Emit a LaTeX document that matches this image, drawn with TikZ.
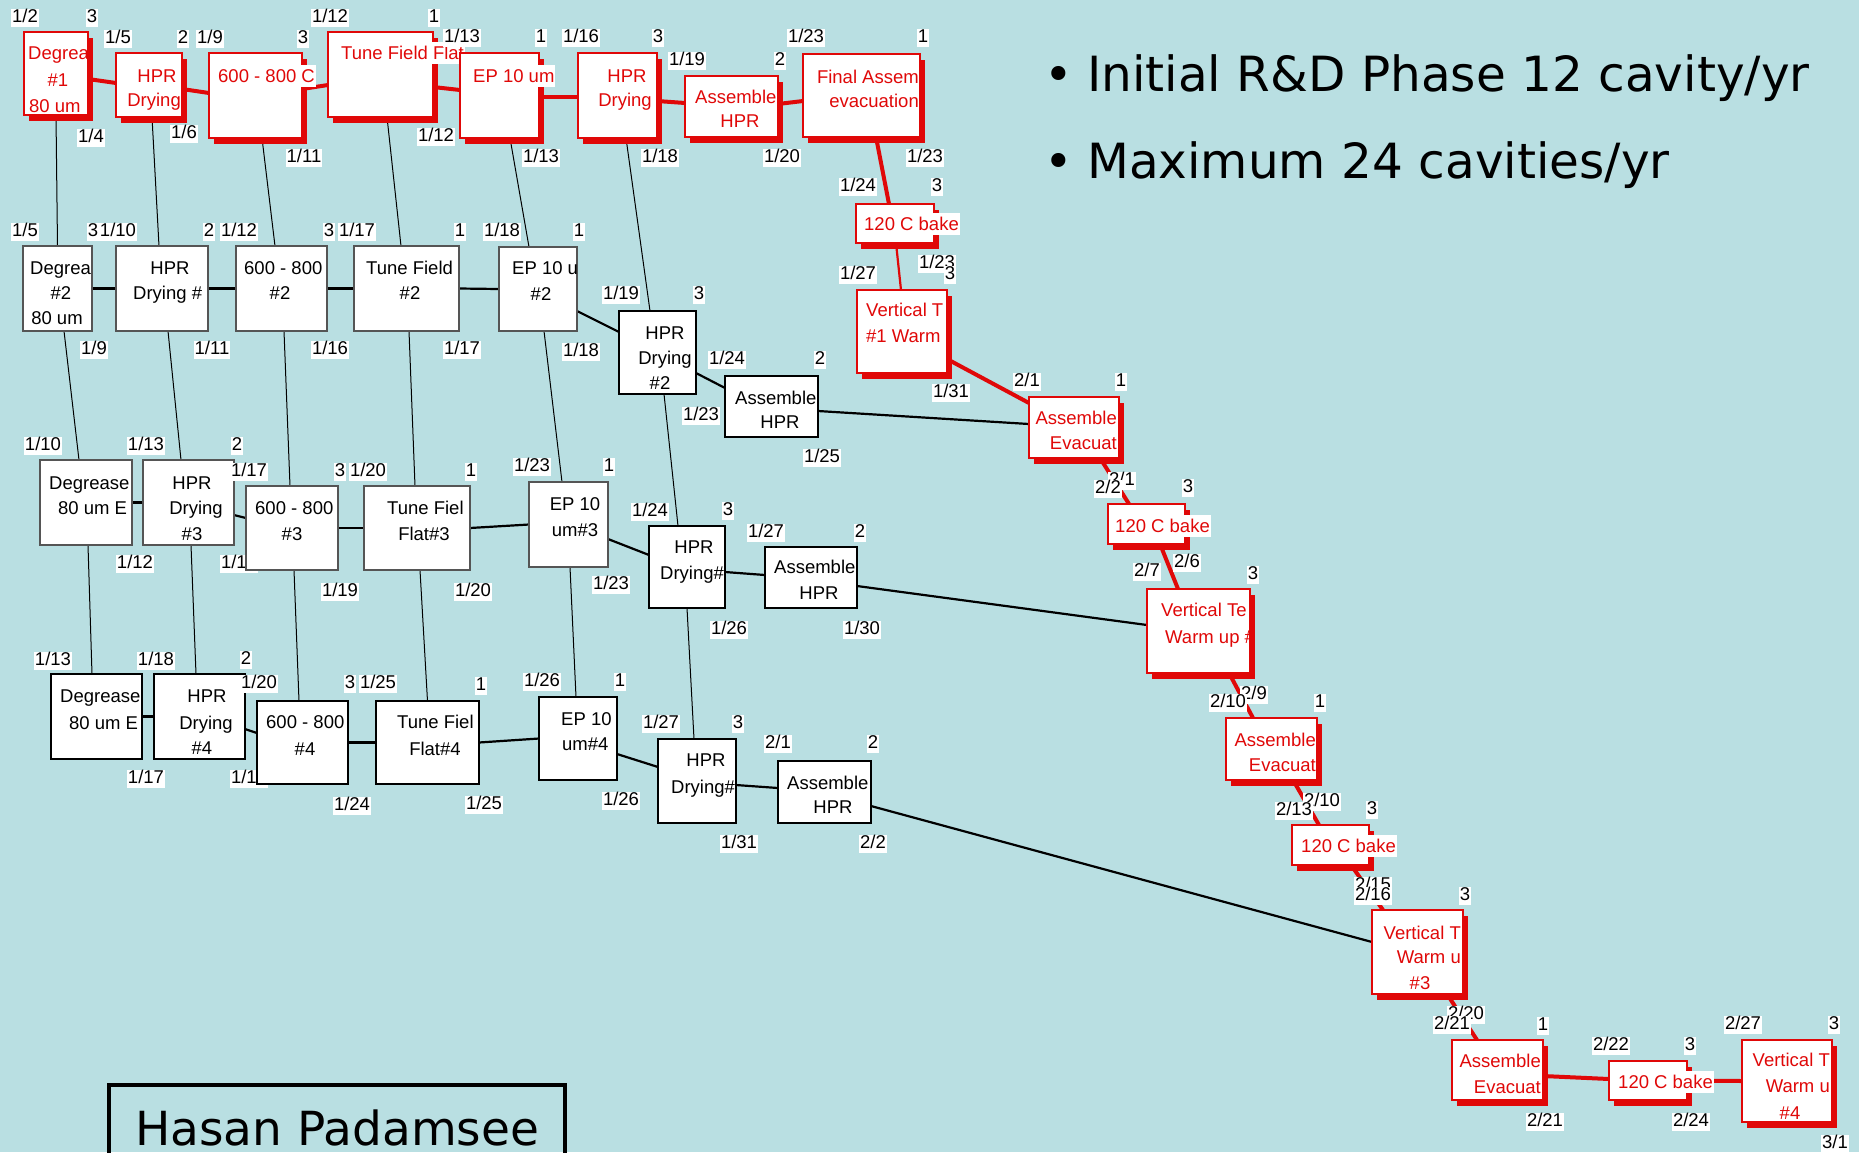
\documentclass[tikz,border=0pt]{standalone}
\usepackage{fontspec}
\setmainfont{Liberation Sans}
\newfontfamily\dejavu{DejaVu Sans}
\usetikzlibrary{shadows,backgrounds}
\definecolor{bgc}{RGB}{185,223,226}
\definecolor{redc}{RGB}{224,8,8}
\definecolor{greyc}{RGB}{85,85,85}
\newcounter{lbc}\newcounter{tlc}
\newcommand{\dlab}[3]{\stepcounter{lbc}\edef\lbname{lab\the\value{lbc}}\node[lab] (\lbname) at (#1,#2) {#3};}
\newcommand{\tline}[5]{\stepcounter{tlc}\edef\tlname{tx\the\value{tlc}}\node[#1,anchor=#2] (\tlname) at (#3,#4) {#5};}
\newcommand{\mkbox}[6]{\node[#6,anchor=north west,minimum width=#4,minimum height=#5] (#1) at (#2,#3) {};}
\tikzset{
 rb/.style={draw=redc, line width=2.2pt, fill=white, inner sep=0pt, outer sep=0pt, drop shadow={shadow xshift=5pt, shadow yshift=-6pt, fill=redc, opacity=1}},
 gb/.style={draw=greyc, line width=1.3pt, fill=white, inner sep=0pt, outer sep=0pt},
 kb/.style={draw=black, line width=2.6pt, fill=white, inner sep=0pt, outer sep=0pt},
 txt/.style={font=\fontsize{18.5}{22}\selectfont, inner sep=0pt, text height=13.3pt, text depth=0pt},
 rt/.style={txt, text=redc},
 bt/.style={txt, text=black},
 ovf/.style={fill=white, inner xsep=1pt, inner ysep=4pt},
 lab/.style={font=\fontsize{18.5}{22}\selectfont, fill=white, inner sep=1pt, text height=13.3pt, text depth=3.5pt, text=black},
 rcon/.style={draw=redc, line width=4pt},
 rthin/.style={draw=redc, line width=2.2pt},
 bcon/.style={draw=black, line width=2.2pt},
 vcon/.style={draw=black, line width=1pt},
 big/.style={font=\dejavu\fontsize{48.5}{58}\selectfont, inner sep=0pt},
}
\begin{document}
\begin{tikzpicture}[x=1pt,y=-1pt]
\useasboundingbox (0,0) rectangle (1859,1152);
\begin{pgfonlayer}{background}
\fill[bgc] (0,0) rectangle (1859,1152);
\end{pgfonlayer}

% labels hidden behind boxes
\dlab{239}{564}{1/16}
\dlab{249}{779}{1/19}

% ---------- row 1 (red) ----------
\mkbox{d1}{24}{32}{64}{83}{rb}
\tline{rt}{west}{28}{53}{Degrea}
\tline{rt}{center}{58}{80}{\#1}
\tline{rt}{west}{29}{106}{80 um}
\mkbox{h1}{116}{53}{66}{64}{rb}
\tline{rt}{center}{157}{76}{HPR}
\tline{rt}{east}{181}{100}{Drying}
\mkbox{s1}{209}{53}{93}{85}{rb}
\tline{rt,ovf}{west}{217}{76}{600 - 800 C}
\mkbox{t1}{328}{32}{105}{85}{rb}
\tline{rt,ovf}{west}{340}{53}{Tune Field Flat}
\mkbox{e1}{460}{53}{79}{85}{rb}
\tline{rt,ovf}{west}{472}{76}{EP 10 um}
\mkbox{f1}{578}{53}{79}{85}{rb}
\tline{rt}{center}{627}{76}{HPR}
\tline{rt}{center}{625}{100}{Drying}
\mkbox{a1}{685}{76}{93}{61}{rb}
\tline{rt}{west}{695}{97}{Assemble}
\tline{rt}{center}{740}{121}{HPR}
\mkbox{fin}{803}{54}{117}{83}{rb}
\tline{rt}{east}{919}{77}{Final Assem}
\tline{rt}{east}{919}{101}{evacuation}

% ---------- red chain ----------
\mkbox{cb1}{856}{204}{78}{39}{rb}
\tline{rt,ovf}{west}{863}{224}{120 C bake}
\mkbox{vt1}{857}{290}{90}{83}{rb}
\tline{rt}{west}{866}{310}{Vertical T}
\tline{rt}{west}{866}{336}{\#1 Warm}
\mkbox{ae1}{1029}{397}{90}{61}{rb}
\tline{rt}{east}{1117}{418}{Assemble}
\tline{rt}{east}{1117}{443}{Evacuat}
\mkbox{cb2}{1108}{504}{77}{40}{rb}
\tline{rt,ovf}{west}{1114}{526}{120 C bake}
\mkbox{vt2}{1147}{589}{103}{84}{rb}
\tline{rt}{west}{1161}{610}{Vertical Te}
\tline{rt}{west}{1165}{637}{Warm up \#}
\mkbox{ae3}{1226}{718}{91}{62}{rb}
\tline{rt}{east}{1316}{740}{Assemble}
\tline{rt}{east}{1316}{765}{Evacuat}
\mkbox{cb3}{1292}{825}{77}{40}{rb}
\tline{rt,ovf}{west}{1300}{846}{120 C bake}
\mkbox{vt3}{1372}{910}{91}{84}{rb}
\tline{rt}{east}{1461}{933}{Vertical T}
\tline{rt}{east}{1461}{957}{Warm u}
\tline{rt}{center}{1420}{983}{\#3}
\mkbox{ae4}{1452}{1040}{91}{60}{rb}
\tline{rt}{east}{1541}{1061}{Assemble}
\tline{rt}{east}{1541}{1087}{Evacuat}
\mkbox{cb4}{1609}{1061}{78}{39}{rb}
\tline{rt,ovf}{west}{1617}{1082}{120 C bake}
\mkbox{vt4}{1742}{1040}{90}{82}{rb}
\tline{rt}{east}{1830}{1060}{Vertical T}
\tline{rt}{east}{1830}{1086}{Warm u}
\tline{rt}{center}{1790}{1113}{\#4}

% ---------- row 2 ----------
\mkbox{d2}{23}{246}{69}{85}{gb}
\tline{bt}{west}{30}{268}{Degrea}
\tline{bt}{center}{61}{293}{\#2}
\tline{bt}{center}{57}{318}{80 um}
\mkbox{h2}{116}{246}{92}{85}{gb}
\tline{bt}{center}{170}{268}{HPR}
\tline{bt}{west}{133}{293}{Drying \#}
\mkbox{s2}{236}{246}{91}{85}{gb}
\tline{bt}{west}{244}{268}{600 - 800}
\tline{bt}{center}{280}{293}{\#2}
\mkbox{t2}{354}{246}{105}{85}{gb}
\tline{bt}{west}{366}{268}{Tune Field}
\tline{bt}{center}{410}{293}{\#2}
\mkbox{e2}{499}{247}{78}{84}{gb}
\tline{bt}{west}{512}{268}{EP 10 u}
\tline{bt}{center}{541}{294}{\#2}
\mkbox{f2}{619}{311}{77}{83}{kb}
\tline{bt}{center}{665}{333}{HPR}
\tline{bt}{center}{665}{358}{Drying}
\tline{bt}{center}{660}{383}{\#2}
\mkbox{a2}{725}{376}{93}{61}{kb}
\tline{bt}{west}{735}{398}{Assemble}
\tline{bt}{center}{780}{422}{HPR}

% ---------- row 3 ----------
\mkbox{d3}{40}{460}{92}{85}{gb}
\tline{bt}{west}{49}{483}{Degrease}
\tline{bt}{west}{58}{508}{80 um E}
\mkbox{h3}{143}{460}{91}{85}{gb}
\tline{bt}{center}{192}{483}{HPR}
\tline{bt}{center}{196}{508}{Drying}
\tline{bt}{center}{192}{534}{\#3}
\mkbox{s3}{246}{486}{92}{84}{gb}
\tline{bt}{west}{255}{508}{600 - 800}
\tline{bt}{center}{292}{534}{\#3}
\mkbox{t3}{364}{486}{106}{84}{gb}
\tline{bt}{west}{387}{508}{Tune Fiel}
\tline{bt}{center}{424}{534}{Flat\#3}
\mkbox{e3}{529}{482}{79}{85}{gb}
\tline{bt}{center}{575}{504}{EP 10}
\tline{bt}{center}{575}{530}{um\#3}
\mkbox{f3}{649}{526}{76}{82}{kb}
\tline{bt}{center}{694}{547}{HPR}
\tline{bt}{west}{660}{573}{Drying\#}
\mkbox{a3}{765}{547}{92}{61}{kb}
\tline{bt}{west}{774}{567}{Assemble}
\tline{bt}{center}{819}{593}{HPR}

% ---------- row 4 ----------
\mkbox{d4}{51}{674}{91}{85}{kb}
\tline{bt}{west}{60}{696}{Degrease}
\tline{bt}{west}{69}{723}{80 um E}
\mkbox{h4}{154}{674}{91}{85}{kb}
\tline{bt}{center}{207}{696}{HPR}
\tline{bt}{center}{206}{723}{Drying}
\tline{bt}{center}{202}{748}{\#4}
\mkbox{s4}{257}{701}{91}{83}{kb}
\tline{bt}{west}{266}{722}{600 - 800}
\tline{bt}{center}{305}{749}{\#4}
\mkbox{t4}{376}{701}{103}{83}{kb}
\tline{bt}{west}{397}{722}{Tune Fiel}
\tline{bt}{center}{435}{749}{Flat\#4}
\mkbox{e4}{539}{697}{78}{83}{kb}
\tline{bt}{west}{561}{719}{EP 10}
\tline{bt}{west}{562}{744}{um\#4}
\mkbox{f4}{658}{739}{78}{84}{kb}
\tline{bt}{center}{706}{760}{HPR}
\tline{bt}{west}{671}{787}{Drying\#}
\mkbox{a4}{778}{761}{93}{62}{kb}
\tline{bt}{west}{787}{783}{Assemble}
\tline{bt}{center}{833}{807}{HPR}

% ---------- connectors (behind boxes) ----------
\begin{pgfonlayer}{background}
% row 1 red
\draw[rcon] ([shift={(0,5.5)}]d1.east) -- ([shift={(0,-2)}]h1.west);
\draw[rcon] ([shift={(0,4)}]h1.east) -- ([shift={(0,-2.5)}]s1.west);
\draw[rcon] ([shift={(0,-6.5)}]s1.east) -- ([shift={(0,10.5)}]t1.west);
\draw[rcon] ([shift={(0,12.5)}]t1.east) -- ([shift={(0,-5.5)}]e1.west);
\draw[rcon] ([shift={(0,1.5)}]e1.east) -- ([shift={(0,1.5)}]f1.west);
\draw[rcon] ([shift={(0,5.5)}]f1.east) -- ([shift={(0,-3.5)}]a1.west);
\draw[rcon] ([shift={(0,-2.5)}]a1.east) -- ([shift={(0,5.5)}]fin.west);
% red chain
\draw[rcon] ([shift={(14.5,0)}]fin.south) -- ([shift={(-6,0)}]cb1.north);
\draw[rthin] ([shift={(1,0)}]cb1.south) -- ([shift={(-1,0)}]vt1.north);
\draw[rcon] ([shift={(0,27.5)}]vt1.east) -- ([shift={(0,-24.5)}]ae1.west);
\draw[rcon] ([shift={(26,0)}]ae1.south) -- ([shift={(-17.5,0)}]cb2.north);
\draw[rcon] ([shift={(13.5,0)}]cb2.south) -- ([shift={(-20.5,0)}]vt2.north);
\draw[rcon] ([shift={(30.5,0)}]vt2.south) -- ([shift={(-18.5,0)}]ae3.north);
\draw[rcon] ([shift={(21.5,0)}]ae3.south) -- ([shift={(-11.5,0)}]cb3.north);
\draw[rcon] ([shift={(20.5,0)}]cb3.south) -- ([shift={(-34.5,0)}]vt3.north);
\draw[rcon] ([shift={(29.5,0)}]vt3.south) -- ([shift={(-20.5,0)}]ae4.north);
\draw[rcon] ([shift={(0,6)}]ae4.east) -- ([shift={(0,-1.5)}]cb4.west);
\draw[rcon] (cb4.east) -- (vt4.west);
% long black lines
\draw[bcon] ([shift={(0,4.5)}]a2.east) -- ([shift={(0,-3.5)}]ae1.west);
\draw[bcon] ([shift={(0,8.5)}]a3.east) -- ([shift={(0,-6)}]vt2.west);
\draw[bcon] ([shift={(0,14)}]a4.east) -- ([shift={(0,-10)}]vt3.west);
% row 2
\draw[bcon] (d2.east) -- (h2.west);
\draw[bcon] (h2.east) -- (s2.west);
\draw[bcon] (s2.east) -- (t2.west);
\draw[bcon] (t2.east) -- (e2.west);
\draw[bcon] ([shift={(0,22)}]e2.east) -- ([shift={(0,-20.5)}]f2.west);
\draw[bcon] ([shift={(0,20.5)}]f2.east) -- ([shift={(0,-18.5)}]a2.west);
% row 3
\draw[bcon] (d3.east) -- (h3.west);
\draw[bcon] ([shift={(0,12.5)}]h3.east) -- ([shift={(0,-10)}]s3.west);
\draw[bcon] (s3.east) -- (t3.west);
\draw[bcon] (t3.east) -- (e3.west);
\draw[bcon] ([shift={(0,14.5)}]e3.east) -- ([shift={(0,-12)}]f3.west);
\draw[bcon] ([shift={(0,5)}]f3.east) -- ([shift={(0,-2.5)}]a3.west);
% row 4
\draw[bcon] (d4.east) -- (h4.west);
\draw[bcon] ([shift={(0,12.5)}]h4.east) -- ([shift={(0,-9.5)}]s4.west);
\draw[bcon] (s4.east) -- (t4.west);
\draw[bcon] (t4.east) -- (e4.west);
\draw[bcon] ([shift={(0,15.5)}]e4.east) -- ([shift={(0,-14)}]f4.west);
\draw[bcon] ([shift={(0,4)}]f4.east) -- ([shift={(0,-4)}]a4.west);
% vertical thin links
\draw[vcon] (d1.south) -- (d2.north);
\draw[vcon] ([shift={(6.5,0)}]d2.south) -- ([shift={(-7,0)}]d3.north);
\draw[vcon] ([shift={(2,0)}]d3.south) -- ([shift={(-4.5,0)}]d4.north);
\draw[vcon] ([shift={(3,0)}]h1.south) -- ([shift={(-3,0)}]h2.north);
\draw[vcon] ([shift={(6,0)}]h2.south) -- ([shift={(-7.5,0)}]h3.north);
\draw[vcon] ([shift={(2.5,0)}]h3.south) -- ([shift={(-3.5,0)}]h4.north);
\draw[vcon] ([shift={(6.5,0)}]s1.south) -- ([shift={(-6.5,0)}]s2.north);
\draw[vcon] ([shift={(2.5,0)}]s2.south) -- ([shift={(-2,0)}]s3.north);
\draw[vcon] ([shift={(2,0)}]s3.south) -- ([shift={(-3.5,0)}]s4.north);
\draw[vcon] ([shift={(6.5,0)}]t1.south) -- ([shift={(-5.5,0)}]t2.north);
\draw[vcon] ([shift={(2.5,0)}]t2.south) -- ([shift={(-2,0)}]t3.north);
\draw[vcon] ([shift={(3,0)}]t3.south) -- (t4.north);
\draw[vcon] ([shift={(10.5,0)}]e1.south) -- ([shift={(-9,0)}]e2.north);
\draw[vcon] ([shift={(6,0)}]e2.south) -- ([shift={(-6.5,0)}]e3.north);
\draw[vcon] ([shift={(1.5,0)}]e3.south) -- ([shift={(-2,0)}]e4.north);
\draw[vcon] ([shift={(8.5,0)}]f1.south) -- ([shift={(-7.5,0)}]f2.north);
\draw[vcon] ([shift={(6.5,0)}]f2.south) -- ([shift={(-9,0)}]f3.north);
\draw[vcon] (f3.south) -- ([shift={(-3,0)}]f4.north);
\end{pgfonlayer}

% ---------- date labels ----------
\dlab{25}{18}{1/2}
\dlab{92}{18}{3}
\dlab{118}{39}{1/5}
\dlab{183}{39}{2}
\dlab{210}{39}{1/9}
\dlab{303}{39}{3}
\dlab{330}{18}{1/12}
\dlab{434}{18}{1}
\dlab{462}{38}{1/13}
\dlab{541}{38}{1}
\dlab{581}{38}{1/16}
\dlab{658}{38}{3}
\dlab{687}{61}{1/19}
\dlab{780}{61}{2}
\dlab{806}{38}{1/23}
\dlab{923}{38}{1}
\dlab{91}{138}{1/4}
\dlab{184}{134}{1/6}
\dlab{304}{158}{1/11}
\dlab{436}{137}{1/12}
\dlab{541}{158}{1/13}
\dlab{660}{158}{1/18}
\dlab{782}{158}{1/20}
\dlab{925}{158}{1/23}
\dlab{858}{187}{1/24}
\dlab{937}{187}{3}
\dlab{858}{275}{1/27}
\dlab{937}{264}{1/23}
\dlab{950}{275}{3}
\dlab{951}{393}{1/31}
\dlab{1027}{382}{2/1}
\dlab{1121}{382}{1}
\dlab{1122}{481}{2/1}
\dlab{1108}{489}{2/2}
\dlab{1188}{488}{3}
\dlab{1147}{572}{2/7}
\dlab{1187}{563}{2/6}
\dlab{1253}{575}{3}
\dlab{1254}{695}{2/9}
\dlab{1228}{703}{2/10}
\dlab{1320}{703}{1}
\dlab{1322}{802}{2/10}
\dlab{1294}{811}{2/13}
\dlab{1372}{810}{3}
\dlab{1373}{886}{2/15}
\dlab{1373}{896}{2/16}
\dlab{1465}{896}{3}
\dlab{1466}{1015}{2/20}
\dlab{1452}{1025}{2/21}
\dlab{1543}{1026}{1}
\dlab{1611}{1046}{2/22}
\dlab{1690}{1046}{3}
\dlab{1743}{1025}{2/27}
\dlab{1834}{1025}{3}
\dlab{1545}{1122}{2/21}
\dlab{1691}{1122}{2/24}
\dlab{1835}{1144}{3/1}
% row 2
\dlab{25}{232}{1/5}
\dlab{93}{232}{3}
\dlab{118}{232}{1/10}
\dlab{209}{232}{2}
\dlab{239}{232}{1/12}
\dlab{329}{232}{3}
\dlab{357}{232}{1/17}
\dlab{460}{232}{1}
\dlab{502}{232}{1/18}
\dlab{579}{232}{1}
\dlab{94}{350}{1/9}
\dlab{212}{350}{1/11}
\dlab{330}{350}{1/16}
\dlab{462}{350}{1/17}
\dlab{581}{352}{1/18}
\dlab{621}{295}{1/19}
\dlab{699}{295}{3}
\dlab{727}{360}{1/24}
\dlab{820}{360}{2}
\dlab{701}{416}{1/23}
\dlab{822}{458}{1/25}
% row 3
\dlab{43}{446}{1/10}
\dlab{146}{446}{1/13}
\dlab{237}{446}{2}
\dlab{249}{472}{1/17}
\dlab{340}{472}{3}
\dlab{368}{472}{1/20}
\dlab{471}{472}{1}
\dlab{135}{564}{1/12}
\dlab{340}{592}{1/19}
\dlab{473}{592}{1/20}
\dlab{532}{467}{1/23}
\dlab{609}{467}{1}
\dlab{650}{512}{1/24}
\dlab{728}{511}{3}
\dlab{766}{533}{1/27}
\dlab{860}{533}{2}
\dlab{611}{585}{1/23}
\dlab{729}{630}{1/26}
\dlab{862}{630}{1/30}
% row 4
\dlab{53}{661}{1/13}
\dlab{156}{661}{1/18}
\dlab{246}{660}{2}
\dlab{259}{684}{1/20}
\dlab{350}{684}{3}
\dlab{378}{684}{1/25}
\dlab{481}{686}{1}
\dlab{146}{779}{1/17}
\dlab{352}{806}{1/24}
\dlab{484}{805}{1/25}
\dlab{542}{682}{1/26}
\dlab{620}{682}{1}
\dlab{661}{724}{1/27}
\dlab{738}{724}{3}
\dlab{778}{744}{2/1}
\dlab{873}{744}{2}
\dlab{621}{801}{1/26}
\dlab{739}{844}{1/31}
\dlab{873}{844}{2/2}

% ---------- bullets ----------
\node[big, anchor=base] (bul1) at (1059,91) {•};
\node[big, anchor=base west] (btx1) at (1087,91) {Initial R\&D Phase 12 cavity/yr};
\node[big, anchor=base] (bul2) at (1059,178) {•};
\node[big, anchor=base west] (btx2) at (1087,178) {Maximum 24 cavities/yr};

% ---------- author box ----------
\node[draw=black, line width=4pt, anchor=north west, minimum width=456, minimum height=100, inner sep=0pt, outer sep=0pt] (hbox) at (109,1085) {};
\node[anchor=base west, font=\dejavu\fontsize{47}{56}\selectfont, inner sep=0pt] (htext) at (135,1145) {Hasan Padamsee};
\end{tikzpicture}
\end{document}
